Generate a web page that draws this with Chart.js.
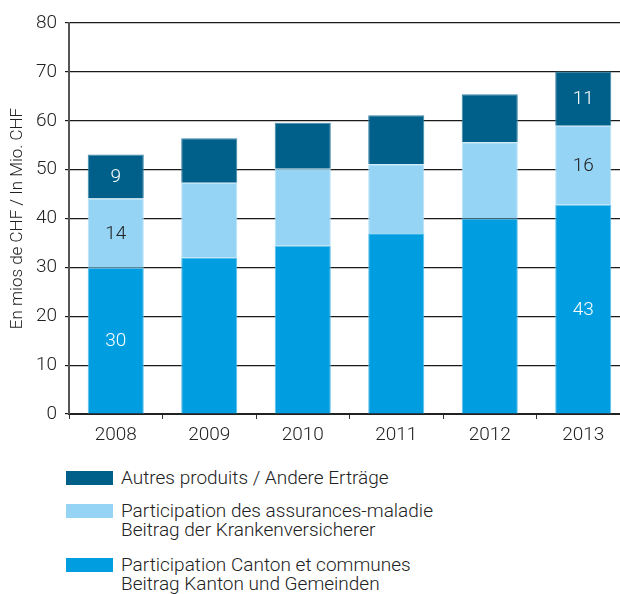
<!DOCTYPE html>
<html>
<head>
<meta charset="utf-8">
<script src="https://cdn.jsdelivr.net/npm/chart.js@4/dist/chart.umd.min.js"></script>
<style>
  html, body { margin: 0; padding: 0; background: #fff; overflow: hidden; }
  #wrap { position: relative; width: 620px; height: 594px; overflow: hidden; }
  #chart { position: absolute; left: 0; top: 0; }
  .leg { position: absolute; left: 66px; font-family: Roboto, "Liberation Sans", sans-serif; font-weight: 300;
         font-size: 19px; line-height: 19.3px; color: #222; }
  .leg span.box { position: absolute; left: 0; top: 3px; width: 47px; height: 14px; }
  .leg div.txt { margin-left: 55px; white-space: nowrap; }
</style>
</head>
<body>
<div id="wrap">
  <canvas id="chart" width="640" height="460"></canvas>
  <div id="legend"></div>
</div>
<script>
// annees
var annees = ["2008", "2009", "2010", "2011", "2012", "2013"];

// valeurs en mios de CHF
var canton  = [29.9, 32.0, 34.4, 37.0, 40.0, 42.8];
var maladie = [14.2, 15.3, 15.8, 14.1, 15.6, 16.2];
var autres  = [9.0, 9.1, 9.4, 10.0, 9.8, 11.1];

// etiquettes affichees sur les barres
var etiqCanton  = [30, null, null, null, null, 43];
var etiqMaladie = [14, null, null, null, null, 16];
var etiqAutres  = [9, null, null, null, null, 11];

var ticksY = [0, 10, 20, 30, 40, 50, 60, 70, 80];

var nomAutres  = ["Autres produits / Andere Erträge"];
var nomMaladie = ["Participation des assurances-maladie", "Beitrag der Krankenversicherer"];
var nomCanton  = ["Participation Canton et communes", "Beitrag Kanton und Gemeinden"];

var couleurFonce = "#00608a";
var couleurClair = "#96d4f5";
var couleurMoyen = "#009ee0";

var police = "Roboto, 'Liberation Sans', sans-serif";

// plugin pour ecrire les valeurs au milieu des segments
var pluginEtiquettes = {
    id: "etiquettes",
    afterDatasetsDraw: function (chart) {
        var ctx = chart.ctx;
        ctx.save();
        ctx.font = "300 19px " + police;
        ctx.textAlign = "center";
        ctx.textBaseline = "middle";
        chart.data.datasets.forEach(function (ds, d) {
            var meta = chart.getDatasetMeta(d);
            meta.data.forEach(function (bar, i) {
                var v = ds.etiquettes[i];
                if (v === null) return;
                ctx.fillStyle = ds.couleurTexte;
                ctx.fillText(String(v), bar.x, (bar.y + bar.base) / 2 + 1);
            });
        });
        ctx.restore();
    }
};

new Chart(document.getElementById("chart"), {
    type: "bar",
    data: {
        labels: annees,
        datasets: [{
            label: nomCanton.join(" "),
            data: canton,
            backgroundColor: couleurMoyen,
            borderColor: "#5cc0ec",
            borderWidth: { top: 1, left: 1, right: 1, bottom: 0 },
            etiquettes: etiqCanton,
            couleurTexte: "#ffffff"
        }, {
            label: nomMaladie.join(" "),
            data: maladie,
            backgroundColor: couleurClair,
            borderColor: "#b9e3f8",
            borderWidth: { top: 1, left: 1, right: 1, bottom: 0 },
            etiquettes: etiqMaladie,
            couleurTexte: "#222222"
        }, {
            label: nomAutres.join(" "),
            data: autres,
            backgroundColor: couleurFonce,
            borderColor: "#3f86a8",
            borderWidth: { top: 1, left: 1, right: 1, bottom: 0 },
            etiquettes: etiqAutres,
            couleurTexte: "#ffffff"
        }]
    },
    options: {
        responsive: false,
        animation: false,
        devicePixelRatio: 1,
        layout: { padding: { top: 23, right: 10, bottom: 0, left: 0 } },
        plugins: { legend: { display: false }, tooltip: { enabled: false } },
        datasets: { bar: { categoryPercentage: 1, barPercentage: 0.6 } },
        scales: {
            x: {
                stacked: true,
                grid: { drawOnChartArea: false, drawTicks: true, tickLength: 5, color: "#333", offset: true },
                border: { color: "#222", width: 2 },
                ticks: { color: "#222", font: { family: police, size: 19, weight: 300 }, padding: 5 },
                afterFit: function (scale) { scale.height = 46; }
            },
            y: {
                stacked: true,
                min: 0,
                max: 80,
                afterBuildTicks: function (scale) {
                    scale.ticks = ticksY.map(function (v) { return { value: v }; });
                },
                grid: { color: "#1a1a1a", lineWidth: 1.2, tickLength: 4 },
                border: { color: "#555", width: 2 },
                ticks: { color: "#222", font: { family: police, size: 19, weight: 300 }, padding: 8 },
                title: {
                    display: true,
                    text: "En mios de CHF / In Mio. CHF",
                    color: "#222",
                    font: { family: police, size: 17, weight: 300 },
                    padding: { top: 8, bottom: 0 }
                },
                afterFit: function (scale) { scale.width = 69; }
            }
        }
    },
    plugins: [pluginEtiquettes]
});

// legende en html (textes sur deux lignes)
var legende = [
    { nom: nomAutres, couleur: couleurFonce, haut: 468 },
    { nom: nomMaladie, couleur: couleurClair, haut: 501 },
    { nom: nomCanton, couleur: couleurMoyen, haut: 555 }
];
var zone = document.getElementById("legend");
legende.forEach(function (item) {
    var el = document.createElement("div");
    el.className = "leg";
    el.style.top = item.haut + "px";
    var box = document.createElement("span");
    box.className = "box";
    box.style.background = item.couleur;
    el.appendChild(box);
    var txt = document.createElement("div");
    txt.className = "txt";
    txt.innerHTML = item.nom.join("<br>");
    el.appendChild(txt);
    zone.appendChild(el);
});
</script>
</body>
</html>
